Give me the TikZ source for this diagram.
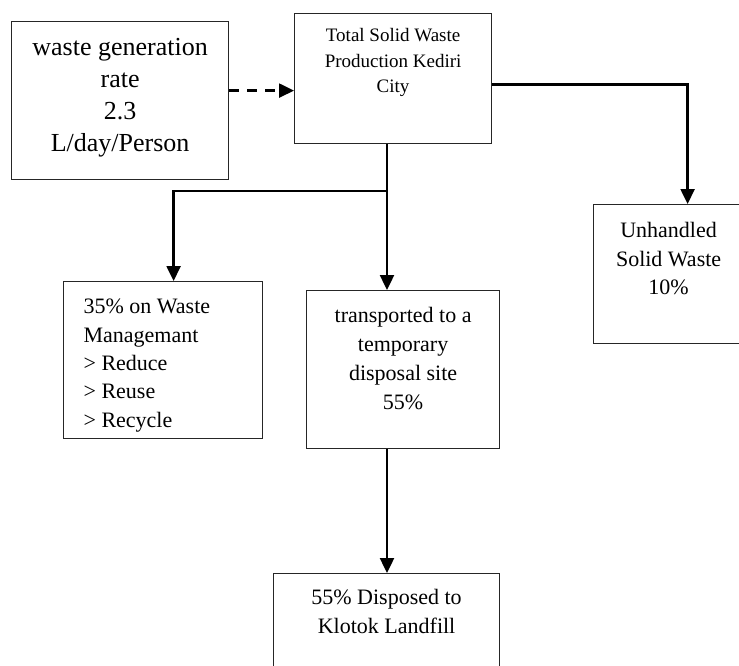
\documentclass[tikz,border=0pt]{standalone}
\usepackage{fontspec}
\setmainfont{Liberation Serif}
\usetikzlibrary{arrows.meta}
\newcommand{\boxtext}[4]{\parbox[t][#2][t]{#1}{\vspace*{#3}\strut#4}}

\begin{document}
\begin{tikzpicture}[x=1pt,y=-1pt,
	box/.style={draw=black!85,line width=1.2pt,inner sep=0pt,anchor=north west},
	flow/.style={line width=2.4pt,line join=miter,-{Triangle[length=15pt,width=14pt]}},
	]
	\useasboundingbox (0,0) rectangle (739,665);
	
	\node[box,font=\fontsize{26}{32}\selectfont] (A) at (11,21) {\boxtext{217pt}{158pt}{11.6pt}{\centering waste generation\\ rate\\ 2.3\\ L/day/Person}};
	\node[box,font=\fontsize{19}{25.8}\selectfont] (T) at (294,13) {\boxtext{197pt}{130pt}{9.6pt}{\centering Total Solid Waste\\ Production Kediri\\ City}};
	\node[box,font=\fontsize{22}{28.5}\selectfont] (U) at (593,204) {\boxtext{150pt}{139pt}{13pt}{\centering Unhandled\\ Solid Waste\\ 10\%}};
	\node[box,font=\fontsize{22}{28.3}\selectfont] (M) at (63,281) {\boxtext{199pt}{157pt}{12.5pt}{\raggedright\leftskip=20pt 35\% on Waste\\ Managemant\\ > Reduce\\ > Reuse\\ > Recycle}};
	\node[box,font=\fontsize{22}{28.8}\selectfont] (P) at (306,290) {\boxtext{193pt}{158pt}{12pt}{\centering transported to a\\ temporary\\ disposal site\\ 55\%}};
	\node[box,font=\fontsize{22}{28.5}\selectfont] (L) at (273,573) {\boxtext{226pt}{120pt}{11pt}{\centering 55\% Disposed to\\ Klotok Landfill}};
	
	\coordinate (split) at (387,191);
	
	\draw[flow,dash pattern=on 10pt off 8pt] ([yshift=10pt]A.east) -- ([yshift=-12pt]T.west);
	\draw[flow] ([yshift=-6pt]T.east) -| ([xshift=19pt]U.north);
	\draw[flow] (T.south -| split) -- (P.north -| split);
	\draw[flow] (split) -| ([xshift=10.5pt]M.north);
	\draw[flow] (P.south -| split) -- (L.north -| split);
	
\end{tikzpicture}
\end{document}
